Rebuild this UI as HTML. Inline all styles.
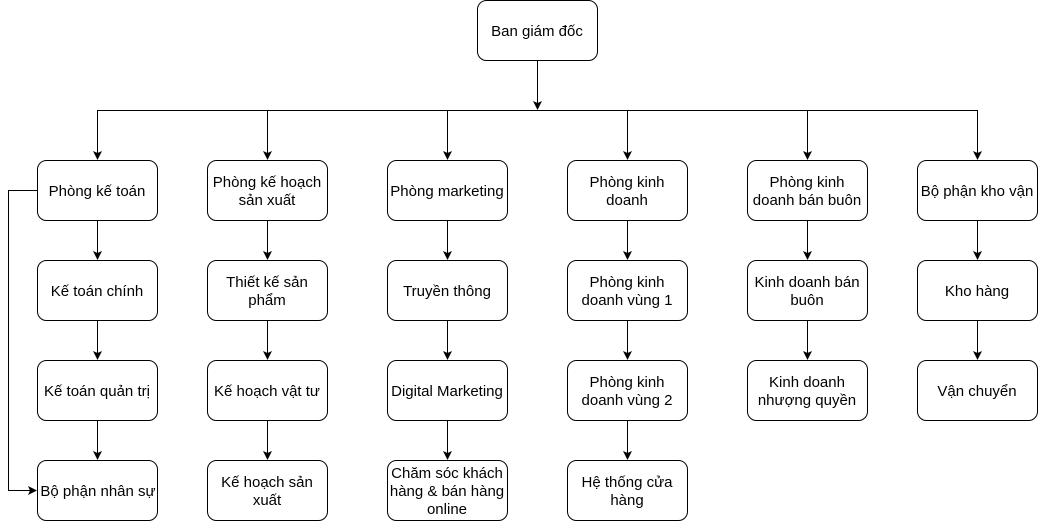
<!DOCTYPE html>
<html><head><meta charset="utf-8"><style>
html,body{margin:0;padding:0;background:#fff;}
svg text{font-family:"Liberation Sans",Arial,sans-serif;font-size:15px;fill:#000;}
</style></head><body>
<svg width="1038" height="521" viewBox="0 0 1038 521" xmlns="http://www.w3.org/2000/svg">
<defs><marker id="a" markerWidth="9" markerHeight="9" refX="8" refY="4.5" orient="auto" markerUnits="userSpaceOnUse"><path d="M0,0 L9,4.5 L0,9 L2,4.5 z" fill="#000"/></marker></defs>
<g fill="#fff" stroke="#000" stroke-width="1">
<rect x="477.5" y="0.5" width="120" height="60" rx="9"/>
<rect x="37.5" y="160.5" width="120" height="60" rx="9"/><rect x="37.5" y="260.5" width="120" height="60" rx="9"/><rect x="37.5" y="360.5" width="120" height="60" rx="9"/><rect x="37.5" y="460.5" width="120" height="60" rx="9"/>
<rect x="207.5" y="160.5" width="120" height="60" rx="9"/><rect x="207.5" y="260.5" width="120" height="60" rx="9"/><rect x="207.5" y="360.5" width="120" height="60" rx="9"/><rect x="207.5" y="460.5" width="120" height="60" rx="9"/>
<rect x="387.5" y="160.5" width="120" height="60" rx="9"/><rect x="387.5" y="260.5" width="120" height="60" rx="9"/><rect x="387.5" y="360.5" width="120" height="60" rx="9"/><rect x="387.5" y="460.5" width="120" height="60" rx="9"/>
<rect x="567.5" y="160.5" width="120" height="60" rx="9"/><rect x="567.5" y="260.5" width="120" height="60" rx="9"/><rect x="567.5" y="360.5" width="120" height="60" rx="9"/><rect x="567.5" y="460.5" width="120" height="60" rx="9"/>
<rect x="747.5" y="160.5" width="120" height="60" rx="9"/><rect x="747.5" y="260.5" width="120" height="60" rx="9"/><rect x="747.5" y="360.5" width="120" height="60" rx="9"/>
<rect x="917.5" y="160.5" width="120" height="60" rx="9"/><rect x="917.5" y="260.5" width="120" height="60" rx="9"/><rect x="917.5" y="360.5" width="120" height="60" rx="9"/>
</g>
<g stroke="#000" stroke-width="1" fill="none">
<path d="M537.5,61 V109" marker-end="url(#a)"/>
<path d="M97.5,110.5 H977.5"/>
<path d="M97.5,110 V159" marker-end="url(#a)"/><path d="M267.5,110 V159" marker-end="url(#a)"/><path d="M447.5,110 V159" marker-end="url(#a)"/><path d="M627.5,110 V159" marker-end="url(#a)"/><path d="M807.5,110 V159" marker-end="url(#a)"/><path d="M977.5,110 V159" marker-end="url(#a)"/>
<path d="M97.5,221 V259" marker-end="url(#a)"/><path d="M97.5,321 V359" marker-end="url(#a)"/><path d="M97.5,421 V459" marker-end="url(#a)"/>
<path d="M267.5,221 V259" marker-end="url(#a)"/><path d="M267.5,321 V359" marker-end="url(#a)"/><path d="M267.5,421 V459" marker-end="url(#a)"/>
<path d="M447.5,221 V259" marker-end="url(#a)"/><path d="M447.5,321 V359" marker-end="url(#a)"/><path d="M447.5,421 V459" marker-end="url(#a)"/>
<path d="M627.5,221 V259" marker-end="url(#a)"/><path d="M627.5,321 V359" marker-end="url(#a)"/><path d="M627.5,421 V459" marker-end="url(#a)"/>
<path d="M807.5,221 V259" marker-end="url(#a)"/><path d="M807.5,321 V359" marker-end="url(#a)"/>
<path d="M977.5,221 V259" marker-end="url(#a)"/><path d="M977.5,321 V359" marker-end="url(#a)"/>
<path d="M37,190.5 H8.5 V490.5 H36" marker-end="url(#a)"/>
</g>
<g text-anchor="middle">
<text x="537" y="36">Ban giám đốc</text>
<text x="97" y="196">Phòng kế toán</text>
<text x="97" y="296">Kế toán chính</text>
<text x="97" y="396">Kế toán quản trị</text>
<text x="98" y="496">Bộ phận nhân sự</text>
<text x="267" y="187">Phòng kế hoạch</text><text x="267" y="205">sản xuất</text>
<text x="267" y="287">Thiết kế sản</text><text x="267" y="305">phẩm</text>
<text x="267" y="396">Kế hoạch vật tư</text>
<text x="267" y="487">Kế hoạch sản</text><text x="267" y="505">xuất</text>
<text x="447" y="196">Phòng marketing</text>
<text x="447" y="296">Truyền thông</text>
<text x="447" y="396">Digital Marketing</text>
<text x="447" y="478">Chăm sóc khách</text><text x="447" y="496">hàng &amp; bán hàng</text><text x="447" y="514">online</text>
<text x="627" y="187">Phòng kinh</text><text x="627" y="205">doanh</text>
<text x="627" y="287">Phòng kinh</text><text x="627" y="305">doanh vùng 1</text>
<text x="627" y="387">Phòng kinh</text><text x="627" y="405">doanh vùng 2</text>
<text x="627" y="487">Hệ thống cửa</text><text x="627" y="505">hàng</text>
<text x="807" y="187">Phòng kinh</text><text x="807" y="205">doanh bán buôn</text>
<text x="807" y="287">Kinh doanh bán</text><text x="807" y="305">buôn</text>
<text x="807" y="387">Kinh doanh</text><text x="807" y="405">nhượng quyền</text>
<text x="977" y="196">Bộ phận kho vận</text>
<text x="977" y="296">Kho hàng</text>
<text x="977" y="396">Vận chuyển</text>
</g>
</svg>
</body></html>
